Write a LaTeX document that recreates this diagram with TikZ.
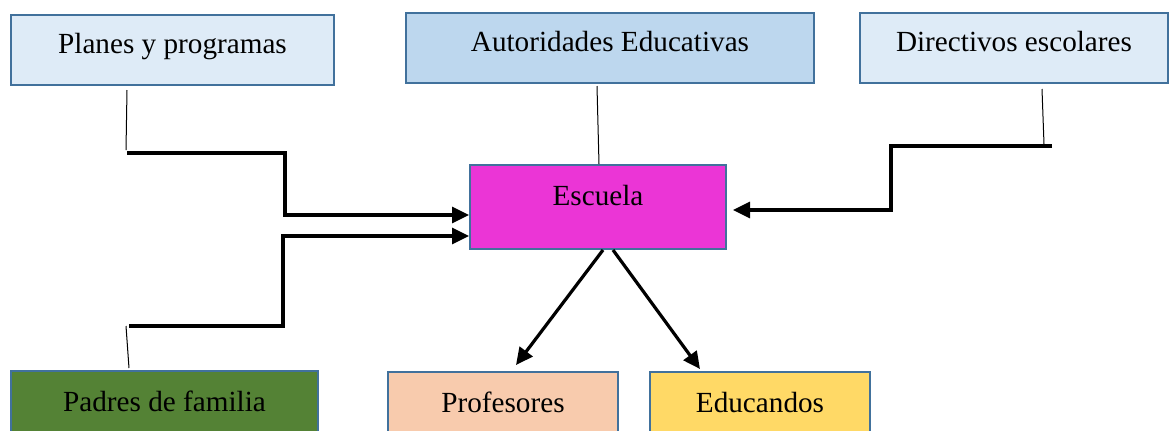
\documentclass[tikz,border=0pt]{standalone}
\usepackage{fontspec}
\setmainfont{Liberation Serif}
\usetikzlibrary{arrows.meta}
\definecolor{bord}{HTML}{41719C}
\definecolor{lblue}{HTML}{DEEBF7}
\definecolor{mblue}{HTML}{BDD7EE}
\definecolor{magen}{HTML}{EB35D6}
\definecolor{dgreen}{HTML}{548235}
\definecolor{peach}{HTML}{F8CBAD}
\definecolor{gold}{HTML}{FFD966}
\tikzset{
  boxstyle/.style={draw=bord, line width=1pt, rectangle, anchor=north west, inner xsep=2pt, inner ysep=0pt,
    font=\fontsize{14.6}{17}\selectfont, text height=10pt, text depth=7pt},
  thinline/.style={line width=0.5pt, black},
  thickarrow/.style={line width=1.6pt, black, -{Triangle[length=8.5pt,width=8pt]}},
}
\begin{document}
\begin{tikzpicture}[x=0.5pt, y=-0.5pt]
\useasboundingbox (0,0) rectangle (1169,430);
\clip (0,0) rectangle (1169,430);
% boxes
\node[boxstyle, fill=lblue, minimum width=161.5pt, minimum height=35pt] (plan) at (10,14) {Planes y programas};
\node[boxstyle, fill=mblue, minimum width=204pt, minimum height=35pt] (aut) at (405,12) {Autoridades Educativas};
\node[boxstyle, fill=lblue, minimum width=154pt, minimum height=35pt] (dir) at (859,12) {Directivos escolares};
\node[boxstyle, fill=magen, minimum width=128pt, minimum height=42pt, text height=10pt, text depth=12pt] (esc) at (469,164) {Escuela};
\node[boxstyle, fill=dgreen, minimum width=153.5pt, minimum height=40pt, text height=10pt, text depth=10pt] (pad) at (10,370) {Padres de familia};
\node[boxstyle, fill=peach, minimum width=115pt, minimum height=40pt, text height=10pt, text depth=10pt] (prof) at (387,371) {Profesores};
\node[boxstyle, fill=gold, minimum width=110pt, minimum height=40pt, text height=10pt, text depth=10pt] (edu) at (649,371) {Educandos};
% coordinates
\coordinate (pl0) at (126,150);
\coordinate (pl1) at (127,153);
\coordinate (pl2) at (285,215);
\coordinate (pa0) at (126,326);
\coordinate (pa1) at (129,326);
\coordinate (pa2) at (283,236);
\coordinate (di0) at (1044,144);
\coordinate (di1) at (1052,146);
\coordinate (di2) at (891,210);
% connectors
\draw[thinline] ([xshift=-22.75pt,yshift=-2pt]plan.south) -- (pl0);
\draw[thickarrow] (pl1) -| (pl2) -- (pl2 -| esc.west);
\draw[thinline] ([xshift=-17.75pt,yshift=1pt]pad.north) -- (pa0);
\draw[thickarrow] (pa1) -| (pa2) -- (pa2 -| esc.west);
\draw[thinline] ([xshift=-6.5pt,yshift=-1pt]aut.south) -- ([xshift=0.5pt]esc.north);
\draw[thinline] ([xshift=14pt,yshift=-2.5pt]dir.south) -- (di0);
\draw[thickarrow, shorten >=3pt] (di1) -| (di2) -- (di2 -| esc.east);
\draw[thickarrow] ([xshift=2.5pt]esc.south) -- ([xshift=6.5pt,yshift=3pt]prof.north);
\draw[thickarrow] ([xshift=7.5pt]esc.south) -- ([xshift=-30pt,yshift=1pt]edu.north);
\end{tikzpicture}
\end{document}
